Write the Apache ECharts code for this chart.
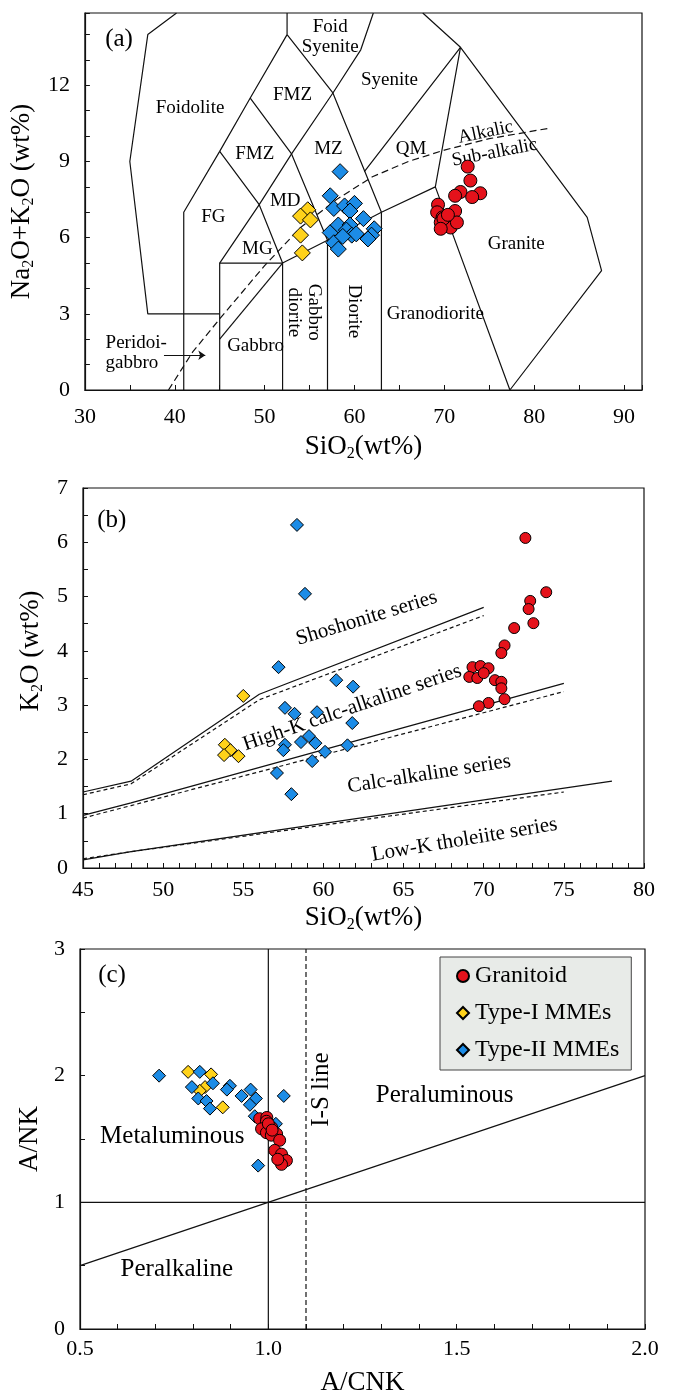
<!DOCTYPE html>
<html>
<head>
<meta charset="utf-8">
<script src="https://cdn.jsdelivr.net/npm/echarts@6/dist/echarts.min.js"></script>
<style>
  html, body { margin: 0; padding: 0; background: #fff; }
  #chart { width: 678px; height: 1397px; }
</style>
</head>
<body>
<div id="chart"></div>
<script>
// ---------- (a) TAS diagram ----------
const granitoidA = [[72.6,8.8],[72.9,8.25],[71.8,7.8],[71.2,7.65],[74.0,7.75],[73.1,7.6],[69.3,7.3],[69.2,7.0],[71.2,7.05],[69.8,6.8],[69.6,6.6],[70.7,6.4],[71.4,6.6],[69.9,6.75],[69.6,6.35],[70.4,6.9]];
const typeIA = [[54.8,7.1],[54.0,6.85],[55.1,6.7],[54.0,6.1],[54.2,5.4]];
const typeIIA = [[58.4,8.6],[57.3,7.65],[57.7,7.15],[58.9,7.25],[60.0,7.35],[59.5,7.05],[61.0,6.75],[62.2,6.35],[61.9,6.1],[61.5,5.95],[57.3,6.2],[58.2,6.5],[59.5,6.5],[59.1,6.3],[59.7,6.1],[57.7,5.8],[58.2,5.55],[60.2,6.15],[58.7,6.05]];

// field boundaries (Middlemost 1994)
const tasLines = [
  [[45,3],[37,3],[35,9],[37,14],[40.2,14.85]],
  [[41,0],[41,7],[45,9.4],[48.4,11.5],[52.5,14],[57.6,11.7],[63,7]],
  [[52.5,14.85],[52.5,14]],
  [[45,0],[45,5],[49.4,7.3],[53,9.3],[57.6,11.7],[60.7,13.4],[62.1,14.85]],
  [[45,9.4],[49.4,7.3],[52,5],[57,5.9],[63,7],[69,8],[71.8,13.5]],
  [[48.4,11.5],[53,9.3],[57,5.9],[57,0]],
  [[45,5],[52,5],[52,0]],
  [[45,2],[52,5]],
  [[63,0],[63,7]],
  [[61.1,8.6],[71.8,13.5],[67.6,14.85]],
  [[71.8,13.5],[85.9,6.8],[87.5,4.7],[77.3,0],[69,8]]
];
const alkalicCurve = [[39.3,0],[42,1.5],[45,2.8],[50,4.9],[54,6.4],[58,7.5],[62,8.4],[66,9.0],[70,9.45],[75,9.9],[81.5,10.3]];
const arrowA = [[38.8,1.37],[43.4,1.37]];
const labelsA = [
  ['(a)',33.8,13.8],['Foidolite',41.7,11.1],['FMZ',53.1,11.6],['FMZ',48.9,9.3],['MZ',57.1,9.5],
  ['Foid\nSyenite',57.3,13.9],['Syenite',63.9,12.2],['QM',66.3,9.5],['MD',52.3,7.45],['FG',44.3,6.8],
  ['MG',49.2,5.55],['Gabbro\ndiorite',54.4,3.06],['Diorite',59.9,3.1],['Granodiorite',69.0,3.0],
  ['Granite',78.0,5.75],['Gabbro',49.0,1.75],['Alkalic',74.6,10.15],['Sub-alkalic',75.6,9.35]
];

// ---------- (b) K2O vs SiO2 ----------
const granitoidB = [[72.6,6.08],[73.9,5.08],[72.9,4.92],[72.8,4.77],[73.1,4.51],[71.9,4.42],[71.3,4.1],[71.1,3.96],[69.3,3.7],[69.8,3.72],[70.3,3.68],[69.1,3.52],[69.6,3.5],[70.0,3.59],[70.7,3.46],[71.1,3.43],[71.1,3.31],[71.3,3.11],[70.3,3.04],[69.7,2.98]];
const typeIB = [[55.0,3.17],[53.85,2.27],[54.2,2.17],[53.8,2.08],[54.7,2.06]];
const typeIIB = [[58.35,6.32],[58.85,5.05],[57.2,3.7],[60.8,3.46],[61.85,3.34],[57.6,2.95],[58.2,2.84],[59.6,2.87],[61.8,2.67],[57.6,2.27],[57.5,2.17],[58.6,2.32],[59.1,2.43],[59.5,2.3],[60.1,2.14],[61.5,2.26],[59.3,1.97],[57.1,1.75],[58.0,1.36]];
const seriesSolid = [
  [[45,1.4],[48,1.6],[56,3.2],[70,4.8]],
  [[45,0.97],[48,1.2],[75,3.4]],
  [[45,0.15],[48,0.3],[78,1.6]]
];
const seriesDashed = [
  [[45,1.35],[48,1.55],[56,3.1],[70,4.65]],
  [[45,0.92],[48,1.15],[75,3.25]],
  [[45,0.17],[48,0.3],[75,1.4]]
];
const labelsB = [
  ['(b)',46.8,6.4,0],['Shoshonite series',62.7,4.6,17],['High-K calc-alkaline series',61.8,2.95,19],
  ['Calc-alkaline series',66.6,1.73,9],['Low-K tholeiite series',68.8,0.52,9.5]
];

// ---------- (c) A/NK vs A/CNK ----------
const granitoidC = [[0.977,1.66],[0.996,1.67],[0.991,1.60],[1.009,1.59],[1.022,1.54],[0.995,1.64],[0.982,1.58],[0.995,1.55],[1.008,1.53],[1.03,1.49],[1.017,1.41],[1.035,1.38],[1.048,1.33],[1.035,1.30],[1.025,1.34],[1.0,1.62],[1.01,1.57]];
const typeIC = [[0.787,2.03],[0.848,2.01],[0.832,1.91],[0.818,1.88],[0.879,1.75]];
const typeIIC = [[0.71,2.0],[0.818,2.03],[0.853,1.94],[0.797,1.91],[0.898,1.92],[0.89,1.89],[0.953,1.89],[0.814,1.82],[0.836,1.80],[0.845,1.74],[0.929,1.84],[0.967,1.82],[0.951,1.77],[1.041,1.84],[0.964,1.68],[1.02,1.62],[0.973,1.29]];
const shandSolid = [
  [[1.0,0],[1.0,3]],
  [[0.5,1],[2.0,1]],
  [[0.5,0.5],[2.0,2.0]]
];
const isLine = [[1.1,0],[1.1,3]];
const labelsC = [
  ['(c)',0.585,2.79,0],['Metaluminous',0.745,1.52,0],['Peraluminous',1.468,1.84,0],
  ['Peralkaline',0.757,0.47,0],['I-S line',1.142,1.89,90]
];

const F = 'Liberation Serif, Times New Roman, serif';
const INK = '#000';
const RED = '#e5121b', YEL = '#ffd21a', BLU = '#1c8ce6';

function subRich(size) {
  return {
    t: { fontSize: size, fontFamily: F, color: INK, lineHeight: size + 4 },
    s: { fontSize: Math.round(size * 0.6), fontFamily: F, color: INK, verticalAlign: 'bottom', lineHeight: Math.round(size * 0.6) }
  };
}

function xAxisCfg(gi, min, max, interval, fmt, margin, name, nameGap) {
  return {
    gridIndex: gi, type: 'value', min: min, max: max, interval: interval,
    axisLine: { onZero: false, lineStyle: { color: '#111', width: 1.2 } },
    axisTick: { inside: true, length: 5, lineStyle: { color: '#111' } },
    axisLabel: { margin: margin, fontSize: 22, fontFamily: F, color: INK, formatter: fmt },
    splitLine: { show: false },
    name: name, nameLocation: 'middle', nameGap: nameGap,
    nameTextStyle: { rich: subRich(27) }
  };
}
function yAxisCfg(gi, min, max, interval, fmt, name, nameGap, pad) {
  return {
    gridIndex: gi, type: 'value', min: min, max: max, interval: interval,
    axisLine: { onZero: false, lineStyle: { color: '#111', width: 1.2 } },
    axisTick: { inside: true, length: 5, lineStyle: { color: '#111' } },
    axisLabel: { margin: 15, fontSize: 22, fontFamily: F, color: INK, formatter: fmt },
    splitLine: { show: false },
    name: name, nameLocation: 'middle', nameGap: nameGap,
    nameTextStyle: { rich: subRich(27), padding: pad || 0 }
  };
}

function near(v, step) { return Math.abs(v / step - Math.round(v / step)) < 1e-6; }

function lineS(gi, pts, dash) {
  return {
    type: 'line', xAxisIndex: gi, yAxisIndex: gi, data: pts, symbol: 'none',
    lineStyle: { color: '#111', width: 1.2, type: dash || 'solid' },
    silent: true, animation: false, z: 2
  };
}
function dotS(gi, name, pts, symbol, size, color) {
  return {
    type: 'scatter', name: name, xAxisIndex: gi, yAxisIndex: gi, data: pts,
    symbol: symbol, symbolSize: size,
    itemStyle: { color: color, borderColor: '#000', borderWidth: 1, opacity: 1 },
    animation: false, z: 5
  };
}
function textLabel(text, size, rot, align) {
  return {
    show: true, position: 'inside', formatter: text, rotate: rot || 0, align: align || 'center',
    fontSize: size, fontFamily: F, color: '#000', opacity: 1,
    textBorderWidth: 0, lineHeight: size + 1
  };
}
function textS(gi, items, size) {
  return {
    type: 'scatter', xAxisIndex: gi, yAxisIndex: gi, symbolSize: 1, silent: true, animation: false, z: 4,
    itemStyle: { color: '#fff', opacity: 0 },
    data: items.map(function (it) {
      const fs = it[0].charAt(0) === '(' ? 25 : size;
      return { value: [it[1], it[2]], label: textLabel(it[0], fs, it[3]) };
    })
  };
}

// rotations for panel (a) text
const rotA = { 'Gabbro\ndiorite': -90, 'Diorite': -90, 'Alkalic': 12, 'Sub-alkalic': 11 };
const itemsA = labelsA.map(function (l) { return [l[0], l[1], l[2], rotA[l[0]] || 0]; });

const series = [];
tasLines.forEach(function (p) { series.push(lineS(0, p)); });
series.push(lineS(0, alkalicCurve, [7, 4]));
series.push({
  type: 'lines', coordinateSystem: 'cartesian2d', xAxisIndex: 0, yAxisIndex: 0, silent: true,
  data: [{ coords: arrowA }], symbol: ['none', 'arrow'], symbolSize: 7,
  lineStyle: { color: '#111', width: 1, opacity: 1 }, animation: false
});
series.push(textS(0, itemsA, 19));
series.push({
  type: 'scatter', xAxisIndex: 0, yAxisIndex: 0, symbolSize: 1, silent: true, animation: false,
  itemStyle: { color: '#fff', opacity: 0 },
  data: [{ value: [32.3, 1.45], label: textLabel('Peridoi-\ngabbro', 19, 0, 'left') }]
});
series.push(dotS(0, 'Type-I MMEs', typeIA, 'diamond', 16, YEL));
series.push(dotS(0, 'Type-II MMEs', typeIIA, 'diamond', 16, BLU));
series.push(dotS(0, 'Granitoid', granitoidA, 'circle', 13, RED));

seriesSolid.forEach(function (p) { series.push(lineS(1, p)); });
seriesDashed.forEach(function (p) { series.push(lineS(1, p, [4, 3])); });
series.push(textS(1, labelsB, 21));
series.push(dotS(1, 'Type-I MMEs', typeIB, 'diamond', 13, YEL));
series.push(dotS(1, 'Type-II MMEs', typeIIB, 'diamond', 13, BLU));
series.push(dotS(1, 'Granitoid', granitoidB, 'circle', 11, RED));

shandSolid.forEach(function (p) { series.push(lineS(2, p)); });
series.push(lineS(2, isLine, [5, 3]));
series.push(textS(2, labelsC, 25));
series.push(dotS(2, 'Type-I MMEs', typeIC, 'diamond', 13, YEL));
series.push(dotS(2, 'Type-II MMEs', typeIIC, 'diamond', 13, BLU));
series.push(dotS(2, 'Granitoid', granitoidC, 'circle', 12, RED));

const gridStyle = { show: true, borderColor: '#111', borderWidth: 1.2, backgroundColor: 'transparent' };

const option = {
  animation: false,
  backgroundColor: '#fff',
  grid: [
    Object.assign({ left: 79, top: 13, width: 563, height: 377 }, gridStyle),
    Object.assign({ left: 83, top: 488, width: 561, height: 380 }, gridStyle),
    Object.assign({ left: 80, top: 949, width: 565, height: 383 }, gridStyle)
  ],
  xAxis: [
    xAxisCfg(0, 30, 92, 5, function (v) { return near(v, 10) ? v : ''; }, 16, '{t|SiO}{s|2}{t|(wt%)}', 41),
    xAxisCfg(1, 45, 80, 1, function (v) { return near(v, 5) ? v : ''; }, 11, '{t|SiO}{s|2}{t|(wt%)}', 34),
    xAxisCfg(2, 0.5, 2.0, 0.1, function (v) { return near(v, 0.5) ? v.toFixed(1) : ''; }, 9, '{t|A/CNK}', 38)
  ],
  yAxis: [
    yAxisCfg(0, 0, 14.85, 1, function (v) { return near(v, 3) ? v : ''; }, '{t|Na}{s|2}{t|O+K}{s|2}{t|O (wt%)}', 36),
    yAxisCfg(1, 0, 7, 0.5, function (v) { return near(v, 1) ? v : ''; }, '{t|K}{s|2}{t|O (wt%)}', 37, [0, 0, 0, 54]),
    yAxisCfg(2, 0, 3, 0.5, function (v) { return near(v, 1) ? v : ''; }, '{t|A/NK}', 32)
  ],
  legend: {
    data: ['Granitoid', 'Type-I MMEs', 'Type-II MMEs'],
    orient: 'vertical', left: 440, top: 957,
    padding: [7, 12, 8, 16], itemGap: 13, itemWidth: 12, itemHeight: 12,
    backgroundColor: '#e8ebe8', borderColor: '#444', borderWidth: 1, borderRadius: 0,
    textStyle: { fontSize: 24, fontFamily: F, color: INK, padding: [0, 0, 0, 1] },
    selectedMode: false
  },
  series: series
};

const chart = echarts.init(document.getElementById('chart'));
chart.setOption(option);
</script>
</body>
</html>
